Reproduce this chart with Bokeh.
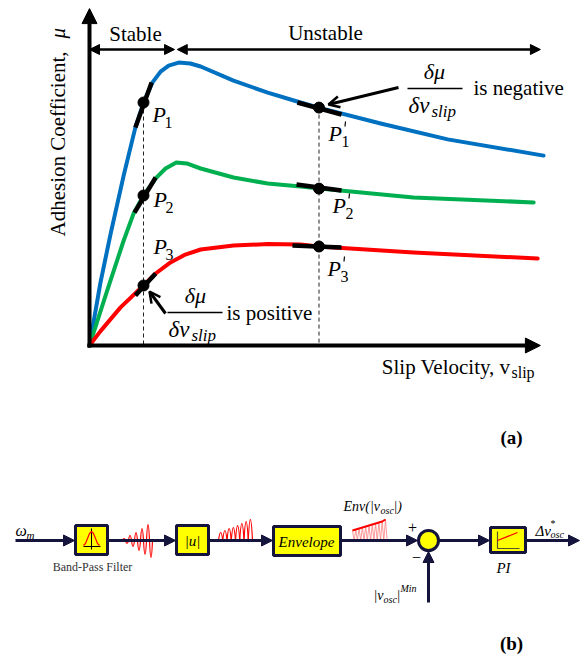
import math
from bokeh.plotting import figure
from bokeh.models import Range1d, Arrow, NormalHead, OpenHead
from bokeh.layouts import column
from bokeh.embed import file_html
from bokeh.resources import INLINE
from bokeh.core.properties import value

# ---------------- data: panel (a) adhesion curves ----------------
v_blue = [0, 0.24, 0.47, 0.76, 1.02, 1.20, 1.40, 1.58, 1.76, 1.98, 2.24, 2.47, 3.20, 3.96, 4.69, 5.09, 6.47, 7.96, 10.09]
mu_blue = [0, 0.207, 0.373, 0.567, 0.727, 0.81, 0.877, 0.913, 0.933, 0.943, 0.94, 0.93, 0.883, 0.843, 0.81, 0.793, 0.74, 0.687, 0.633]

v_green = [0, 0.38, 0.76, 0.98, 1.20, 1.47, 1.69, 1.93, 2.16, 2.47, 3.20, 3.96, 4.69, 5.11, 7.20, 9.87]
mu_green = [0, 0.177, 0.35, 0.44, 0.50, 0.557, 0.59, 0.61, 0.607, 0.59, 0.56, 0.54, 0.53, 0.523, 0.493, 0.477]

v_red = [0, 0.24, 0.69, 1.20, 1.47, 1.80, 2.13, 2.47, 3.20, 3.96, 4.69, 5.09, 7.20, 9.96]
mu_red = [0, 0.047, 0.127, 0.20, 0.24, 0.277, 0.303, 0.32, 0.333, 0.338, 0.337, 0.33, 0.31, 0.29]

curve_colors = ["#0070C0", "#00B050", "#FF0000"]

v_P = 1.20                      # stable operating points P1..P3
mu_P = [0.81, 0.50, 0.20]
v_Pp = 5.10                     # unstable operating points P1'..P3'
mu_Pp = [0.793, 0.523, 0.33]

tan_stable_v = [[1.02, 1.38], [1.00, 1.47], [1.02, 1.47]]
tan_stable_mu = [[0.727, 0.877], [0.443, 0.56], [0.167, 0.24]]
tan_unstable_v = [[4.62, 5.60], [4.60, 5.60], [4.51, 5.60]]
tan_unstable_mu = [[0.81, 0.77], [0.537, 0.517], [0.333, 0.327]]

v_boundary = 1.93
v_axis_end = 10.02
mu_axis_end = 1.123

# ---------------- data: panel (b) signal icons ----------------
bp_wave_amp = [2, 3, 5, 6, 8, 10, 12, 14, 16, 17]
rect_wave_amp = [8, 10, 12, 13, 15, 17, 19, 21]
env_wave_amp = [10, 11, 12, 13, 14, 15, 16, 17, 18, 19, 21]
bell_dx = [-8, -6, -4, -2, 0, 2, 4, 6, 8]
bell_h = [1, 3, 8, 13, 15, 13, 8, 3, 1]

SERIF = "Liberation Serif"
NAVY = "#14143c"

# pixel -> data mapping of panel (a)
def X(px):
    return (px - 89) / 45.0

def Y(py):
    return (345 - py) / 300.0


def T(fig, x, y, s, size, style="normal", align="left", baseline="middle",
      font=SERIF, color="black", angle=0.0):
    fig.text(x=[x], y=[y], text=[s], text_font=value(font), text_font_size=size,
             text_font_style=style, text_align=align, text_baseline=baseline,
             text_color=color, angle=angle)


def base_fig(w, h, xr, yr):
    f = figure(width=w, height=h, x_range=xr, y_range=yr, toolbar_location=None,
               output_backend="svg", x_axis_location=None, y_axis_location=None,
               min_border=0, background_fill_color="white", border_fill_color="white")
    f.grid.visible = False
    f.outline_line_color = None
    return f

# ======================= panel (a) =======================
fa = base_fig(581, 460, Range1d(X(0), X(581)), Range1d(Y(460), Y(0)))

# axes with arrow heads
fa.add_layout(Arrow(end=NormalHead(size=15, fill_color="black", line_color="black"),
                    x_start=X(87), y_start=0, x_end=v_axis_end, y_end=0,
                    line_width=4, line_color="black"))
fa.add_layout(Arrow(end=NormalHead(size=15, fill_color="black", line_color="black"),
                    x_start=0, y_start=Y(347), x_end=0, y_end=mu_axis_end,
                    line_width=4, line_color="black"))

# stable / unstable region arrows
ymark = Y(49)
fa.add_layout(Arrow(start=NormalHead(size=10, fill_color="black", line_color="black"),
                    end=NormalHead(size=10, fill_color="black", line_color="black"),
                    x_start=0, y_start=ymark, x_end=v_boundary - 0.04, y_end=ymark,
                    line_width=2.5, line_color="black"))
fa.add_layout(Arrow(start=NormalHead(size=10, fill_color="black", line_color="black"),
                    end=NormalHead(size=10, fill_color="black", line_color="black"),
                    x_start=v_boundary + 0.02, y_start=ymark, x_end=v_axis_end, y_end=ymark,
                    line_width=2.5, line_color="black"))
T(fa, X(135), Y(33), "Stable", "21px", align="center")
T(fa, X(325), Y(32), "Unstable", "21px", align="center")

# dashed projections
fa.segment(x0=[v_P, v_Pp], y0=[mu_P[0], mu_Pp[0]], x1=[v_P, v_Pp], y1=[0, 0],
           line_color="#222222", line_width=1, line_dash="4 3")

# adhesion curves
for vs, ms, c in zip([v_blue, v_green, v_red], [mu_blue, mu_green, mu_red], curve_colors):
    fa.line(vs, ms, line_color=c, line_width=4, line_join="round", line_cap="round")

# tangent segments and operating points
fa.multi_line(tan_stable_v + tan_unstable_v, tan_stable_mu + tan_unstable_mu,
              line_color="black", line_width=4.5)
fa.scatter(x=[v_P] * 3 + [v_Pp] * 3, y=mu_P + mu_Pp, size=11, color="black")

# P labels
for (px, py, sub) in [(152, 114, "1"), (153, 199, "2"), (153, 246, "3")]:
    T(fa, X(px), Y(py), "P", "22px", style="italic")
    T(fa, X(px + 12), Y(py + 8), sub, "16px")
for (px, py, sub) in [(328, 133, "1"), (332, 205, "2"), (327, 268, "3")]:
    T(fa, X(px), Y(py), "P", "22px", style="italic")
    fa.segment(x0=[X(px + 17)], y0=[Y(py - 12)], x1=[X(px + 16.5)], y1=[Y(py - 7)],
               line_color="black", line_width=1.2)
    T(fa, X(px + 13), Y(py + 8), sub, "16px")

# derivative annotations
def fraction(cx, ybar, x0, x1):
    T(fa, X(cx), Y(ybar - 17), "δμ", "22px", style="italic", align="center")
    fa.segment(x0=[X(x0)], y0=[Y(ybar)], x1=[X(x1)], y1=[Y(ybar)], line_color="black", line_width=1.5)
    T(fa, X(x0 + 1), Y(ybar + 17), "δv", "23px", style="italic")
    T(fa, X(x0 + 24), Y(ybar + 23), "slip", "17px", style="italic")

fraction(434, 88, 407, 462)
T(fa, X(473), Y(87), "is negative", "21px")
fa.add_layout(Arrow(end=OpenHead(size=11, line_width=2.5, line_color="black"),
                    x_start=X(398), y_start=Y(87), x_end=X(328), y_end=Y(104),
                    line_width=3, line_color="black"))

fraction(195, 312, 167, 222)
T(fa, X(226), Y(312), "is positive", "21px")
fa.add_layout(Arrow(end=OpenHead(size=11, line_width=2.5, line_color="black"),
                    x_start=X(165), y_start=Y(313), x_end=X(149), y_end=Y(291),
                    line_width=3, line_color="black"))

# axis titles
T(fa, X(57), Y(236), "Adhesion Coefficient,", "21px", angle=math.pi / 2)
T(fa, X(57), Y(38), "μ", "21px", style="italic", angle=math.pi / 2)
T(fa, X(510), Y(366), "Slip Velocity, v", "21px", align="right")
T(fa, X(511), Y(372), "slip", "16px")

T(fa, X(511), Y(437), "(a)", "19px", style="bold", align="center")

# ======================= panel (b) =======================
fb = base_fig(581, 197, Range1d(0, 581), Range1d(657, 460))
YL = 540

def flow(x0, y0, x1, y1):
    fb.add_layout(Arrow(end=NormalHead(size=11, fill_color=NAVY, line_color=NAVY),
                        x_start=x0, y_start=y0, x_end=x1, y_end=y1,
                        line_width=3, line_color=NAVY))

def box(l, r, t, b):
    fb.quad(left=[l], right=[r], top=[t], bottom=[b], fill_color="#FFFF00",
            line_color=NAVY, line_width=3)

flow(15, YL, 74, YL)
box(75, 107, 525, 554)
flow(107, YL, 175, YL)
box(176, 208, 525, 554)
flow(208, YL, 272, YL)
box(273, 340, 526, 555)
flow(340, YL, 417, YL)
fb.circle(x=[428], y=[YL], radius=10, fill_color="#FFFF00", line_color=NAVY, line_width=3)
flow(428, 602, 428, 551)
flow(438, YL, 489, YL)
box(490, 525, 527, 552)
flow(525, YL, 579, YL)

# band-pass icon
fb.segment(x0=[83], y0=[546], x1=[100], y1=[546], line_color="black", line_width=1)
fb.segment(x0=[91], y0=[528], x1=[91], y1=[549], line_color="black", line_width=1)
fb.line([91 + d for d in bell_dx], [546 - h for h in bell_h], line_color="red", line_width=1.2)

# oscillation icons
def wave(x_start, step, amps, alternate):
    x0s, x1s, cxs, cys = [], [], [], []
    for i, a in enumerate(amps):
        s = (-1 if i % 2 == 0 else 1) if alternate else -1
        xa = x_start + i * step
        x0s.append(xa); x1s.append(xa + step)
        cxs.append(xa + step / 2); cys.append(YL + s * 2 * a)
    fb.quadratic(x0=x0s, y0=[YL] * len(amps), x1=x1s, y1=[YL] * len(amps),
                 cx=cxs, cy=cys, line_color="red", line_width=1.2)

wave(122, 3.0, bp_wave_amp, True)
wave(218, 4.25, rect_wave_amp, False)

# envelope icon
ex, ey = [], []
for i, a in enumerate(env_wave_amp):
    ex += [352 + i * 3.3, 353.6 + i * 3.3]
    ey += [YL - a, YL]
fb.line(ex, ey, line_color="#ff8080", line_width=0.8)
fb.line([352 + i * 3.3 for i in range(len(env_wave_amp))],
        [YL - a for a in env_wave_amp], line_color="red", line_width=2)

# PI icon
fb.line([497, 497, 519], [531, 548, 548], line_color="#55552a", line_width=1.2)
fb.segment(x0=[497], y0=[540], x1=[517], y1=[532], line_color="red", line_width=1.2)

# texts of (b)
T(fb, 15, 530, "ω", "16px", style="italic")
T(fb, 26, 534, "m", "11px", style="italic")
T(fb, 92, 566, "Band-Pass Filter", "12px", align="center", color="#333333")
T(fb, 192, 540, "|u|", "15px", style="italic", align="center")
T(fb, 306, 541, "Envelope", "15px", style="italic", align="center")
T(fb, 343, 506, "Env(|v", "14px", style="italic")
T(fb, 380, 510, "osc", "10px", style="italic")
T(fb, 393, 506, "|)", "14px", style="italic")
T(fb, 412, 527, "+", "16px", align="center")
T(fb, 416, 557, "−", "16px", align="center")
T(fb, 373, 595, "|v", "14px", style="italic")
T(fb, 383, 599, "osc", "10px", style="italic")
T(fb, 396, 595, "|", "14px", style="italic")
T(fb, 400, 588, "Min", "10px", style="italic")
T(fb, 503, 567, "PI", "15px", style="italic", align="center")
T(fb, 535, 530, "Δv", "15px", style="italic")
T(fb, 550, 523, "*", "10px")
T(fb, 550, 534, "osc", "10px", style="italic")
T(fb, 511, 643, "(b)", "19px", style="bold", align="center")

layout = column(fa, fb, spacing=0)
open("out.html", "w").write(file_html(layout, INLINE))
